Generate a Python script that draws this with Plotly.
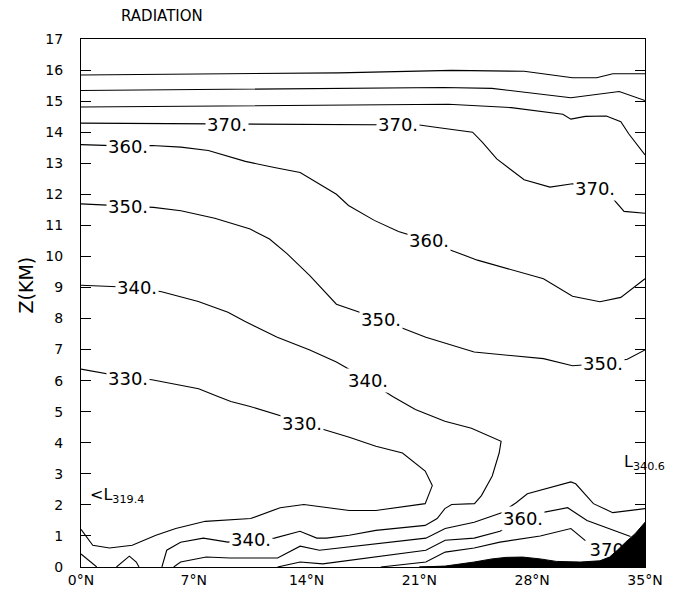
import plotly.graph_objects as go

# ---------------- data (latitude in deg N, height in km) ----------------
lat_ticks = [0, 7, 14, 21, 28, 35]
lat_tick_labels = ["0°N", "7°N", "14°N", "21°N", "28°N", "35°N"]
z_ticks = list(range(0, 18))

# unlabeled stratospheric isentropes
c400_lat = [0, 16, 23, 27.5, 30.5, 32, 33, 35]
c400_z = [15.84, 15.91, 15.99, 15.96, 15.75, 15.75, 15.88, 15.88]
c390_lat = [0, 14, 22.5, 25.5, 30.4, 33.4, 35]
c390_z = [15.34, 15.40, 15.44, 15.41, 15.11, 15.31, 15.02]
c380_lat = [0, 13.4, 22.8, 26.7, 29.9, 30.4, 31.3, 32.6, 33.5, 34.0, 35]
c380_z = [14.81, 14.85, 14.90, 14.79, 14.58, 14.42, 14.51, 14.52, 14.34, 13.94, 13.27]

c370_lat = [0, 10.4, 15, 21, 22, 24.3, 24.9, 25.8, 27.5, 29.1, 30.5, 31.9, 32.8, 33.0, 33.7, 35]
c370_z = [14.29, 14.26, 14.27, 14.23, 14.16, 14.0, 13.68, 13.14, 12.47, 12.23, 12.34, 12.2, 12.09, 11.87, 11.45, 11.39]

c360_lat = [0, 2.9, 4.4, 6.2, 7.9, 10.2, 12.0, 13.6, 15.85, 16.6, 18.2, 19.7, 21.6, 22.7, 24.6, 26.7, 28.7, 30.5, 32.2, 33.5, 35]
c360_z = [13.6, 13.55, 13.57, 13.52, 13.41, 13.06, 12.86, 12.70, 12.0, 11.64, 11.16, 10.8, 10.5, 10.25, 9.88, 9.57, 9.28, 8.72, 8.54, 8.68, 9.28]

c350_lat = [0, 2.9, 4.5, 6.2, 8.3, 10.5, 11.7, 12.8, 14.2, 15.85, 16.9, 18.6, 19.8, 21.4, 24.4, 28.7, 30.5, 32.4, 33.9, 35]
c350_z = [11.69, 11.62, 11.58, 11.47, 11.23, 10.88, 10.56, 10.08, 9.38, 8.46, 8.27, 7.97, 7.72, 7.40, 6.92, 6.71, 6.48, 6.55, 6.69, 6.99]

c340_lat = [0, 3.4, 5.0, 7.28, 9.12, 10.16, 12.18, 14.2, 15.85, 16.77, 17.8, 19.34, 20.75, 22.58, 24.23, 26.07,
            25.95, 25.52, 24.85, 24.42, 23.0, 22.58, 22.1, 21.36, 18.3, 16.65, 15.24, 14.63, 13.59, 12.0,
            10.5, 9.12, 7.59, 6.18, 5.32, 5.02]
c340_z = [9.07, 9.0, 8.86, 8.55, 8.2, 7.91, 7.40, 6.99, 6.6, 6.33, 6.0, 5.49, 5.07, 4.69, 4.47, 4.05,
          3.67, 2.93, 2.30, 2.04, 2.01, 1.88, 1.56, 1.34, 1.18, 1.02, 0.93, 0.93, 1.15, 0.93,
          0.88, 0.8, 0.93, 0.8, 0.54, 0.0]

c330_lat = [0, 2.9, 4.4, 7.3, 8.5, 9.3, 10.5, 12.2, 13.7, 14.8, 16.65, 18.3, 19.95, 21.36, 21.8, 21.36,
            18.3, 16.65, 13.83, 12.36, 10.53, 7.71, 5.88, 4.65, 3.18, 1.77, 0.73, 0]
c330_z = [6.37, 6.1, 6.03, 5.74, 5.49, 5.33, 5.17, 4.91, 4.66, 4.47, 4.18, 3.89, 3.67, 3.09, 2.62, 2.04,
          1.82, 1.82, 2.01, 1.91, 1.56, 1.47, 1.24, 1.02, 0.70, 0.61, 0.70, 1.21]

# small near-surface 340 K features
c340b_lat = [0, 0.98]
c340b_z = [0.42, 0.0]
c340c_lat = [2.2, 3.0, 3.43, 3.6]
c340c_z = [0.0, 0.35, 0.16, 0.0]

# lower-level warm isentropes
c350l_lat = [5.75, 6.18, 7.77, 9.24, 12.2, 13.6, 14.8, 18.9, 21.4, 22.6, 24.4, 26.1, 27.0, 27.7, 29.0, 30.4, 30.7, 31.8, 33.0, 35]
c350l_z = [0.0, 0.16, 0.32, 0.29, 0.29, 0.67, 0.54, 0.77, 0.93, 1.24, 1.44, 1.75, 2.07, 2.36, 2.55, 2.74, 2.68, 2.04, 1.75, 1.88]
c360l_lat = [12.2, 13.6, 15.0, 18.9, 21.4, 22.6, 24.4, 26.0, 27.4, 28.6, 30.2, 31.4, 34.1]
c360l_z = [0.0, 0.16, 0.1, 0.38, 0.54, 0.86, 0.93, 1.15, 1.56, 1.75, 1.91, 1.5, 0.98]
c370l_lat = [18.6, 21.4, 22.6, 24.4, 26.0, 28.5, 30.4, 31.3]
c370l_z = [0.0, 0.16, 0.48, 0.61, 0.8, 1.0, 1.24, 0.85]

# terrain
terrain_lat = [21.0, 22.6, 24.4, 25.5, 26.4, 27.4, 28.5, 29.5, 31.0, 32.2, 32.8, 33.3, 33.8, 34.4, 35]
terrain_z = [0.0, 0.03, 0.16, 0.26, 0.31, 0.32, 0.26, 0.18, 0.16, 0.20, 0.32, 0.55, 0.80, 1.08, 1.44]

# contour labels: text, lat, z
label_text = ["370.", "370.", "370.", "360.", "360.", "360.", "350.", "350.", "350.",
              "340.", "340.", "340.", "330.", "330."]
label_lat = [9.06, 19.7, 31.9, 2.94, 21.6, 27.4, 2.94, 18.6, 32.4,
             3.46, 17.8, 10.53, 2.94, 13.7]
label_z = [14.26, 14.25, 12.2, 13.53, 10.5, 1.56, 11.62, 7.97, 6.55,
           9.0, 6.0, 0.87, 6.08, 4.63]

ftxt = "DejaVu Sans"
fig = go.Figure()

lines = [
    (c400_lat, c400_z), (c390_lat, c390_z), (c380_lat, c380_z), (c370_lat, c370_z),
    (c360_lat, c360_z), (c350_lat, c350_z), (c340_lat, c340_z), (c330_lat, c330_z),
    (c340b_lat, c340b_z), (c340c_lat, c340c_z), (c350l_lat, c350l_z), (c360l_lat, c360l_z),
    (c370l_lat, c370l_z),
]
for lx, lz in lines:
    fig.add_trace(go.Scatter(x=lx, y=lz, mode="lines", line=dict(color="black", width=1.1),
                             hoverinfo="skip", showlegend=False, cliponaxis=True))

# partially hidden 370 label near the terrain (terrain shape drawn above it)
fig.add_trace(go.Scatter(x=[32.8], y=[0.5], mode="text", text=["370."],
                         textfont=dict(family=ftxt, size=18, color="black"),
                         showlegend=False, hoverinfo="skip", cliponaxis=True))

# terrain as a filled path in data coordinates, drawn above the traces
path = "M {},{} ".format(terrain_lat[0], 0) + " ".join(
    "L {},{}".format(a, b) for a, b in zip(terrain_lat, terrain_z)) + " L {},0 Z".format(terrain_lat[-1])
fig.add_shape(type="path", path=path, xref="x", yref="y", fillcolor="black",
              line=dict(color="black", width=1), layer="above")

annotations = []
for t, lx, lz in zip(label_text, label_lat, label_z):
    annotations.append(dict(x=lx, y=lz, xref="x", yref="y", text=t, showarrow=False,
                            font=dict(family=ftxt, size=18, color="black"),
                            bgcolor="white", borderpad=1))

annotations.append(dict(x=0.45, y=2.3, xref="x", yref="y", xanchor="left", yanchor="middle",
                        text="&lt;L<sub>319.4</sub>", showarrow=False,
                        font=dict(family=ftxt, size=16, color="black")))
annotations.append(dict(x=33.6, y=3.35, xref="x", yref="y", xanchor="left", yanchor="middle",
                        text="L<sub>340.6</sub>", showarrow=False,
                        font=dict(family=ftxt, size=16, color="black")))
annotations.append(dict(x=(120 - 81) / 572, y=1 + (39 - 16) / 533, xref="paper", yref="paper",
                        xanchor="left", yanchor="middle", text="RADIATION", showarrow=False,
                        font=dict(family=ftxt, size=15, color="black")))
annotations.append(dict(x=(25 - 81) / 572, y=(572 - 287) / 533, xref="paper", yref="paper",
                        text="Z(KM)", textangle=-90, showarrow=False,
                        font=dict(family=ftxt, size=19, color="black"),
                        xanchor="center", yanchor="middle"))
fig.update_layout(annotations=annotations)

fig.update_layout(
    width=675, height=600,
    margin=dict(l=81, r=22, t=39, b=28, pad=0),
    plot_bgcolor="white", paper_bgcolor="white",
    xaxis=dict(range=[0, 35], tickvals=lat_ticks, ticktext=lat_tick_labels, showgrid=False,
               zeroline=False, showline=True, linecolor="black", linewidth=1.3, mirror=True,
               ticks="", tickfont=dict(family=ftxt, size=14, color="black")),
    yaxis=dict(range=[0, 17], tickvals=z_ticks, showgrid=False, zeroline=False, showline=True,
               linecolor="black", linewidth=1.3, mirror="allticks", ticks="inside", ticklen=10,
               tickcolor="black", tickwidth=1, ticklabelstandoff=14,
               tickfont=dict(family=ftxt, size=14, color="black")),
)

fig.write_html("out.html")
